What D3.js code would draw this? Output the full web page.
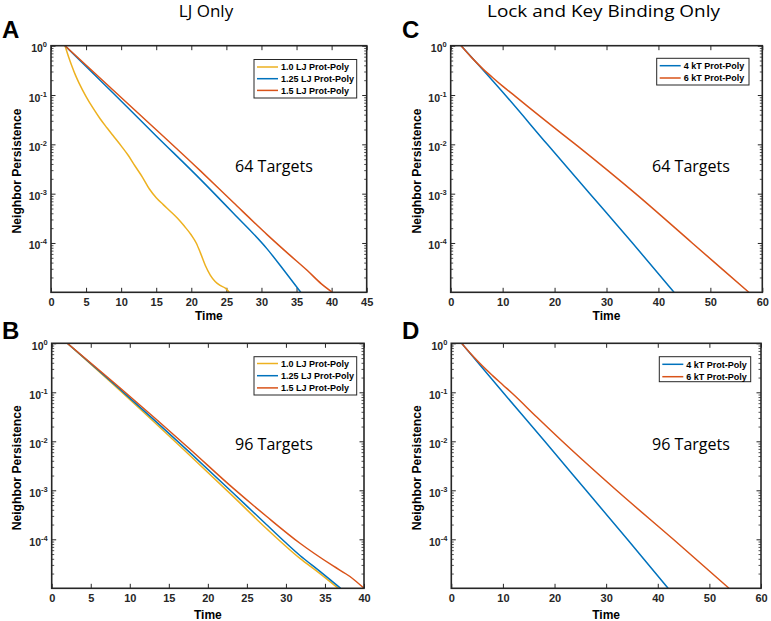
<!DOCTYPE html>
<html><head><meta charset="utf-8">
<script src="https://cdn.jsdelivr.net/npm/d3@7"></script>
<style>body{margin:0;background:#fff}svg{display:block}</style>
</head><body>
<svg id="chart" width="771" height="621"></svg>
<script>
// ---------- DATA ----------
const seriesNames = ["1.0 LJ Prot-Poly", "1.25 LJ Prot-Poly", "1.5 LJ Prot-Poly"];
const seriesNamesKT = ["4 kT Prot-Poly", "6 kT Prot-Poly"];
const xTicksLJ64 = [0, 5, 10, 15, 20, 25, 30, 35, 40, 45];
const xTicksLJ96 = [0, 5, 10, 15, 20, 25, 30, 35, 40];
const xTicksKT = [0, 10, 20, 30, 40, 50, 60];
const yTickValues = [1, 0.1, 0.01, 0.001, 0.0001];
const yTickExponents = ["0", "-1", "-2", "-3", "-4"];

// Panel A: LJ only, 64 targets
const timeA_10 = [2, 2.5, 3, 3.5, 4, 5, 6, 7, 8, 9, 10, 11, 12, 13, 14, 15, 16, 17, 18, 19, 20, 20.7, 21.3, 22, 22.7, 23.4, 24.1, 24.9, 25.4];
const persA_10 = [1, 0.6, 0.38, 0.25, 0.174, 0.093, 0.054, 0.033, 0.0214, 0.0141, 0.0093, 0.006, 0.0036, 0.0022, 0.00126, 0.00083, 0.0006, 0.00044, 0.00032, 0.00022, 0.000145, 0.0001, 0.000063, 0.000035, 0.0000224, 0.0000166, 0.0000138, 0.000012, 0.00001];
const timeA_125 = [2, 8.7, 15, 21.3, 26, 30.8, 33.2, 35.6];
const persA_125 = [1, 0.115, 0.0148, 0.00195, 0.0004, 0.000076, 0.000028, 0.00001];
const timeA_15 = [2, 10, 21.3, 26, 30.8, 34, 36.5, 38.5, 40.1];
const persA_15 = [1, 0.089, 0.0029, 0.00066, 0.000148, 0.0000575, 0.000028, 0.000015, 0.00001];

// Panel B: LJ only, 96 targets
const timeB_10 = [2, 9.4, 17.5, 23.2, 27.5, 31.8, 34.2, 36.7];
const persB_10 = [1, 0.087, 0.0055, 0.00076, 0.000166, 0.0000407, 0.0000209, 0.00001];
const timeB_125 = [2, 9.4, 17.5, 23.2, 27.5, 31.8, 34.4, 37];
const persB_125 = [1, 0.093, 0.0063, 0.00089, 0.0002, 0.0000468, 0.0000219, 0.00001];
const timeB_15 = [2, 9.4, 17.5, 23.2, 27.5, 31.8, 36.1, 38.2, 40];
const persB_15 = [1, 0.1, 0.0074, 0.00112, 0.000295, 0.000083, 0.0000282, 0.0000174, 0.00001];

// Panel C: lock and key, 64 targets
const timeC_4 = [2, 10.5, 18.6, 26.8, 35.0, 43.0];
const persC_4 = [1, 0.1, 0.01, 0.001, 0.0001, 0.00001];
const timeC_6 = [2, 4, 6, 8, 10, 12.4, 18, 24.4, 35.6, 46.5, 57.4];
const persC_6 = [1, 0.58, 0.355, 0.229, 0.151, 0.095, 0.0316, 0.0093, 0.001, 0.0001, 0.00001];

// Panel D: lock and key, 96 targets
const timeD_4 = [2, 10.0, 18.1, 26.1, 34.1, 42.0];
const persD_4 = [1, 0.1, 0.01, 0.001, 0.0001, 0.00001];
const timeD_6 = [2, 4, 6, 8, 10, 12, 16.5, 21.5, 32, 43, 53.8];
const persD_6 = [1, 0.575, 0.347, 0.219, 0.141, 0.091, 0.0316, 0.01, 0.001, 0.0001, 0.00001];

// ---------- STYLE ----------
const C_YEL = "#EDB120", C_BLU = "#0072BD", C_RED = "#D95319";
const AX = "#262626";
const TICKFONT = "'Liberation Sans', Arial, Helvetica, sans-serif";
const ANNFONT = "'Open Sans', Lato, sans-serif";

const svg = d3.select("#chart");

const zip = (t, v) => t.map((d, i) => ({t: d, v: v[i]}));

function panel(cfg) {
  const {L, R, T, B} = cfg.box;
  const x = d3.scaleLinear().domain(cfg.xDomain).range([L, R]);
  const y = d3.scaleLog().domain([0.00001, 1]).range([B, T]);
  const g = svg.append("g");
  const cid = "clip" + cfg.id;
  svg.append("clipPath").attr("id", cid).append("rect")
    .attr("x", L).attr("y", T).attr("width", R - L).attr("height", B - T);

  // minor y ticks
  const minor = [];
  for (let e = -5; e < 0; e++) for (let k = 2; k <= 9; k++) minor.push(k * Math.pow(10, e));
  const gyMinL = g.append("g").attr("transform", `translate(${L},0)`)
    .call(d3.axisLeft(y).tickValues(minor).tickSize(-2.5).tickFormat(""));
  const gyMinR = g.append("g").attr("transform", `translate(${R},0)`)
    .call(d3.axisRight(y).tickValues(minor).tickSize(-2.5).tickFormat(""));
  [gyMinL, gyMinR].forEach(s => { s.select(".domain").remove(); s.selectAll("line").attr("stroke", AX).attr("stroke-width", 0.8); });

  // major y ticks
  const gyL = g.append("g").attr("transform", `translate(${L},0)`)
    .call(d3.axisLeft(y).tickValues(yTickValues).tickSize(-4.5).tickPadding(4).tickFormat(""));
  const gyR = g.append("g").attr("transform", `translate(${R},0)`)
    .call(d3.axisRight(y).tickValues(yTickValues).tickSize(-4.5).tickFormat(""));
  [gyL, gyR].forEach(s => { s.select(".domain").remove(); s.selectAll("line").attr("stroke", AX).attr("stroke-width", 1); });
  gyL.selectAll(".tick text").each(function(d, i) {
    const t = d3.select(this);
    t.attr("dy", null).attr("y", 6).attr("font-family", TICKFONT).attr("font-weight", "bold")
      .attr("font-size", 10.5).attr("fill", AX).text("10");
    t.append("tspan").attr("dy", -5).attr("font-size", 7.5).text(yTickExponents[i]);
  });

  // x ticks
  const gxB = g.append("g").attr("transform", `translate(0,${B})`)
    .call(d3.axisBottom(x).tickValues(cfg.xTicks).tickSize(-4.5).tickPadding(6));
  const gxT = g.append("g").attr("transform", `translate(0,${T})`)
    .call(d3.axisTop(x).tickValues(cfg.xTicks).tickSize(-4.5).tickFormat(""));
  [gxB, gxT].forEach(s => { s.select(".domain").remove(); s.selectAll("line").attr("stroke", AX).attr("stroke-width", 1); });
  gxB.selectAll(".tick text").attr("font-family", TICKFONT).attr("font-weight", "bold")
    .attr("font-size", 11).attr("fill", AX);

  // lines
  const line = d3.line().x(d => x(d.t)).y(d => y(d.v)).curve(d3.curveMonotoneX);
  const lg = g.append("g").attr("clip-path", `url(#${cid})`);
  cfg.series.forEach(s => {
    lg.append("path").datum(zip(s.t, s.v)).attr("d", line)
      .attr("fill", "none").attr("stroke", s.color).attr("stroke-width", 1.5);
  });

  // frame
  g.append("rect").attr("x", L).attr("y", T).attr("width", R - L).attr("height", B - T)
    .attr("fill", "none").attr("stroke", AX).attr("stroke-width", 1.6);

  // axis labels
  g.append("text").attr("x", (L + R) / 2).attr("y", cfg.timeY).attr("text-anchor", "middle")
    .attr("font-family", TICKFONT).attr("font-weight", "bold").attr("font-size", 12).attr("fill", "#000").text("Time");
  g.append("text").attr("transform", `translate(${cfg.ylabX},${(T + B) / 2 + 2}) rotate(-90)`)
    .attr("text-anchor", "middle").attr("font-family", TICKFONT).attr("font-weight", "bold")
    .attr("font-size", 12).attr("textLength", 125).attr("lengthAdjust", "spacingAndGlyphs")
    .attr("fill", "#000").text("Neighbor Persistence");

  // annotation
  g.append("text").attr("x", cfg.ann.x).attr("y", cfg.ann.y).attr("font-family", ANNFONT)
    .attr("font-size", 17).attr("textLength", 78).attr("lengthAdjust", "spacingAndGlyphs")
    .attr("fill", "#000").text(cfg.ann.text);

  // legend
  const lb = cfg.legend;
  g.append("rect").attr("x", lb.x).attr("y", lb.y).attr("width", lb.w).attr("height", lb.h)
    .attr("fill", "#fff").attr("stroke", AX).attr("stroke-width", 1);
  cfg.series.forEach((s, i) => {
    const yy = lb.y + lb.first + i * lb.step;
    g.append("line").attr("x1", lb.x + 3).attr("x2", lb.x + 24).attr("y1", yy).attr("y2", yy)
      .attr("stroke", s.color).attr("stroke-width", 1.5);
    g.append("text").attr("x", lb.x + 27).attr("y", yy + 3.3).attr("font-family", TICKFONT)
      .attr("font-weight", "bold").attr("font-size", 9).attr("fill", "#000").text(s.name);
  });

  // panel letter
  svg.append("text").attr("x", cfg.letter.x).attr("y", cfg.letter.y).attr("font-family", TICKFONT)
    .attr("font-weight", "bold").attr("font-size", 24).attr("fill", "#000").text(cfg.letter.t);
}

panel({
  id: "A", box: {L: 51, R: 366.7, T: 45.7, B: 292.3}, xDomain: [0, 45], xTicks: xTicksLJ64,
  series: [
    {name: seriesNames[0], t: timeA_10, v: persA_10, color: C_YEL},
    {name: seriesNames[1], t: timeA_125, v: persA_125, color: C_BLU},
    {name: seriesNames[2], t: timeA_15, v: persA_15, color: C_RED}],
  timeY: 320, ylabX: 21, ann: {x: 235, y: 171.5, text: "64 Targets"},
  legend: {x: 254, y: 59.5, w: 102.7, h: 38.5, first: 7.5, step: 11.7},
  letter: {x: 2, y: 38, t: "A"}
});
panel({
  id: "B", box: {L: 51.7, R: 364, T: 343.3, B: 588.3}, xDomain: [0, 40], xTicks: xTicksLJ96,
  series: [
    {name: seriesNames[0], t: timeB_10, v: persB_10, color: C_YEL},
    {name: seriesNames[1], t: timeB_125, v: persB_125, color: C_BLU},
    {name: seriesNames[2], t: timeB_15, v: persB_15, color: C_RED}],
  timeY: 618.5, ylabX: 21, ann: {x: 235, y: 450, text: "96 Targets"},
  legend: {x: 254, y: 356.7, w: 102.7, h: 38.3, first: 6.8, step: 12.2},
  letter: {x: 2, y: 339, t: "B"}
});
panel({
  id: "C", box: {L: 450.7, R: 762.3, T: 45.7, B: 292.3}, xDomain: [0, 60], xTicks: xTicksKT,
  series: [
    {name: seriesNamesKT[0], t: timeC_4, v: persC_4, color: C_BLU},
    {name: seriesNamesKT[1], t: timeC_6, v: persC_6, color: C_RED}],
  timeY: 320, ylabX: 421, ann: {x: 652, y: 171.5, text: "64 Targets"},
  legend: {x: 656.7, y: 58.3, w: 92.3, h: 26.7, first: 7.4, step: 12.3},
  letter: {x: 402, y: 38, t: "C"}
});
panel({
  id: "D", box: {L: 451.3, R: 761, T: 343.3, B: 588.3}, xDomain: [0, 60], xTicks: xTicksKT,
  series: [
    {name: seriesNamesKT[0], t: timeD_4, v: persD_4, color: C_BLU},
    {name: seriesNamesKT[1], t: timeD_6, v: persD_6, color: C_RED}],
  timeY: 618.5, ylabX: 421, ann: {x: 652, y: 450, text: "96 Targets"},
  legend: {x: 659.3, y: 356.7, w: 91.4, h: 25, first: 7.6, step: 12.4},
  letter: {x: 402, y: 339, t: "D"}
});

// column titles
svg.append("text").attr("x", 206).attr("y", 17).attr("text-anchor", "middle").attr("font-family", ANNFONT)
  .attr("font-size", 17).attr("fill", "#000").text("LJ Only");
svg.append("text").attr("x", 603.5).attr("y", 17).attr("text-anchor", "middle").attr("font-family", ANNFONT)
  .attr("font-size", 17).attr("textLength", 233).attr("lengthAdjust", "spacingAndGlyphs")
  .attr("fill", "#000").text("Lock and Key Binding Only");
</script>
</body></html>
